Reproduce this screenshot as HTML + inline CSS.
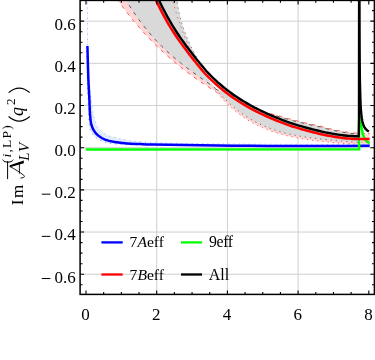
<!DOCTYPE html>
<html><head><meta charset="utf-8"><title>plot</title>
<style>
html,body{margin:0;padding:0;background:#fff;}
body{width:375px;height:360px;overflow:hidden;position:relative;font-family:"Liberation Serif",serif;}
</style></head><body>
<svg width="375" height="360" viewBox="0 0 375 360" style="position:absolute;left:0;top:0">
<defs><clipPath id="pc"><rect x="80.10" y="0.40" width="294.30" height="294.00"/></clipPath></defs>
<rect x="0" y="0" width="375" height="360" fill="#fff"/>
<g stroke="#cfcfcf" stroke-width="1" fill="none">
<path d="M156.70,0.40 V294.40"/>
<path d="M227.40,0.40 V294.40"/>
<path d="M298.10,0.40 V294.40"/>
<path d="M80.10,274.24 H374.40"/>
<path d="M80.10,232.06 H374.40"/>
<path d="M80.10,189.88 H374.40"/>
<path d="M80.10,147.70 H374.40"/>
<path d="M80.10,105.52 H374.40"/>
<path d="M80.10,63.34 H374.40"/>
<path d="M80.10,21.16 H374.40"/>
</g>
<g clip-path="url(#pc)" fill="none" stroke-linejoin="round">
<path d="M170.54,-8.00 L171.23,-5.11 L171.95,-2.21 L172.71,0.68 L173.49,3.58 L174.30,6.47 L175.15,9.37 L176.02,12.26 L176.93,15.16 L177.87,18.05 L178.84,20.95 L179.84,23.84 L180.87,26.74 L181.93,29.63 L183.02,32.53 L184.15,35.42 L185.30,38.32 L186.49,41.21 L187.70,44.11 L188.95,47.00 L188.00,52.60 L190.00,55.22 L192.00,57.77 L194.00,60.30 L196.00,62.83 L198.00,65.33 L200.00,67.77 L202.00,70.14 L204.00,72.41 L206.00,74.56 L209.00,80.50 L212.00,84.50 L215.50,89.00 L217.00,92.60 L217.00,92.51 L214.31,90.81 L211.62,89.09 L208.92,87.34 L206.23,85.57 L203.54,83.77 L200.85,81.94 L198.15,80.08 L195.46,78.18 L192.77,76.25 L190.08,74.28 L187.38,72.28 L184.69,70.23 L182.00,68.14 L179.31,66.00 L176.62,63.82 L173.92,61.58 L171.23,59.29 L168.54,56.95 L165.85,54.56 L163.15,52.11 L160.46,49.59 L157.77,47.02 L155.08,44.38 L152.38,41.68 L149.69,38.91 L147.00,36.06 L144.31,33.15 L141.62,30.16 L138.92,27.10 L136.23,23.96 L133.54,20.74 L130.85,17.44 L128.15,14.05 L125.46,10.58 L122.77,7.02 L120.08,3.37 L117.38,-0.37 L114.69,-4.21 L112.00,-8.14 Z" fill="#ffd6d6" stroke="none"/>
<path d="M217.00,92.60 L226.00,89.83 L228.71,91.83 L231.41,93.75 L234.12,95.59 L236.82,97.36 L239.53,99.05 L242.24,100.68 L244.94,102.25 L247.65,103.77 L250.36,105.23 L253.06,106.63 L255.77,107.98 L258.47,109.29 L261.18,110.55 L263.89,111.55 L266.59,112.41 L269.30,113.23 L272.00,114.01 L274.71,114.76 L277.42,115.48 L280.12,116.18 L282.83,117.02 L285.53,117.84 L288.24,118.62 L290.95,119.36 L293.65,120.03 L296.36,120.68 L299.07,121.30 L301.77,121.96 L304.48,122.64 L307.18,123.30 L309.89,123.92 L312.60,124.53 L315.30,125.10 L318.01,125.65 L320.71,126.24 L323.42,127.01 L326.13,127.75 L328.83,128.46 L331.54,129.13 L334.24,129.76 L336.95,130.34 L339.66,130.87 L342.36,131.36 L345.07,131.82 L347.78,132.22 L350.48,132.57 L353.19,132.86 L355.89,133.09 L358.60,133.26 L358.60,143.96 L356.20,143.92 L353.80,143.87 L351.40,143.79 L349.00,143.69 L346.60,143.58 L344.20,143.44 L341.80,143.29 L339.40,143.12 L337.00,142.94 L334.60,142.74 L332.20,142.53 L329.80,142.31 L327.40,142.07 L325.00,141.83 L322.60,141.57 L320.20,141.29 L317.80,141.01 L315.40,140.71 L313.00,140.39 L310.60,140.06 L308.20,139.72 L305.80,139.35 L303.40,138.97 L301.00,138.57 L298.60,138.14 L296.20,137.69 L293.80,137.21 L291.40,136.70 L289.00,136.17 L286.60,135.60 L284.20,135.00 L281.80,134.37 L279.40,133.70 L277.00,132.98 L274.60,132.23 L272.20,131.42 L269.80,130.57 L267.40,129.68 L265.00,128.73 L262.60,127.72 L260.20,126.65 L257.80,125.51 L255.40,124.31 L253.00,123.04 L250.60,121.69 L248.20,120.26 L245.80,118.75 L243.40,117.15 L241.00,115.46 L238.60,113.68 L236.20,111.80 L233.80,109.81 L231.40,107.72 L229.00,105.52 L226.60,103.21 L224.20,100.77 L221.80,98.21 L219.40,95.52 L217.00,92.70 Z" fill="#ffd6d6" stroke="none"/>
<path d="M361.2,133.6 L369.7,134.1 L369.7,144.6 L361.2,144.6 Z" fill="#ffd6d6" stroke="none"/>
<path d="M176.33,-8.00 L176.55,-4.58 L176.87,-1.16 L177.28,2.26 L177.78,5.68 L178.37,9.11 L179.06,12.53 L179.85,15.95 L180.72,19.37 L181.69,22.79 L182.75,26.21 L183.91,29.63 L185.16,33.05 L186.50,36.47 L187.94,39.89 L189.46,43.32 L191.09,46.74 L192.80,50.16 L194.61,53.58 L196.51,57.00 L196.00,62.83 L198.00,65.33 L200.00,67.77 L202.00,70.14 L204.00,72.41 L206.00,74.56 L209.00,80.50 L212.00,84.50 L215.50,89.00 L215.50,88.44 L213.06,86.67 L210.63,84.91 L208.19,83.17 L205.76,81.44 L203.32,79.71 L200.88,77.98 L198.45,76.25 L196.01,74.50 L193.58,72.74 L191.14,70.96 L188.71,69.16 L186.27,67.33 L183.83,65.47 L181.40,63.57 L178.96,61.63 L176.53,59.64 L174.09,57.60 L171.65,55.50 L169.22,53.35 L166.78,51.13 L164.35,48.84 L161.91,46.47 L159.47,44.03 L157.04,41.50 L154.60,38.89 L152.17,36.18 L149.73,33.38 L147.29,30.48 L144.86,27.47 L142.42,24.35 L139.99,21.11 L137.55,17.76 L135.12,14.28 L132.68,10.67 L130.24,6.93 L127.81,3.05 L125.37,-0.97 L122.94,-5.14 L120.50,-9.46 Z" fill="#d9d9d9" stroke="none"/>
<path d="M215.50,89.00 L218.50,90.60 L222.00,92.00 L226.00,90.63 L228.71,92.63 L231.41,94.55 L234.12,96.39 L236.82,98.16 L239.53,99.85 L242.24,101.48 L244.94,103.05 L247.65,104.57 L250.36,106.03 L253.06,107.43 L255.77,108.78 L258.47,110.09 L261.18,111.35 L263.89,112.35 L266.59,113.21 L269.30,114.03 L272.00,114.81 L274.71,115.56 L277.42,116.28 L280.12,116.98 L282.83,117.82 L285.53,118.64 L288.24,119.42 L290.95,120.16 L293.65,120.83 L296.36,121.48 L299.07,122.10 L301.77,122.76 L304.48,123.44 L307.18,124.10 L309.89,124.72 L312.60,125.33 L315.30,125.90 L318.01,126.45 L320.71,127.04 L323.42,127.81 L326.13,128.55 L328.83,129.26 L331.54,129.93 L334.24,130.56 L336.95,131.14 L339.66,131.67 L342.36,132.16 L345.07,132.62 L347.78,133.02 L350.48,133.37 L353.19,133.66 L355.89,133.89 L358.60,134.06 L358.60,142.39 L356.17,142.24 L353.75,142.09 L351.32,141.91 L348.90,141.73 L346.47,141.53 L344.05,141.32 L341.62,141.11 L339.20,140.89 L336.77,140.66 L334.35,140.42 L331.92,140.18 L329.49,139.94 L327.07,139.69 L324.64,139.43 L322.22,139.16 L319.79,138.89 L317.37,138.61 L314.94,138.31 L312.52,138.01 L310.09,137.69 L307.67,137.36 L305.24,137.01 L302.82,136.65 L300.39,136.26 L297.96,135.83 L295.54,135.37 L293.11,134.89 L290.69,134.38 L288.26,133.83 L285.84,133.25 L283.41,132.63 L280.99,131.97 L278.56,131.26 L276.14,130.51 L273.71,129.71 L271.28,128.85 L268.86,127.95 L266.43,127.00 L264.01,125.99 L261.58,124.91 L259.16,123.77 L256.73,122.55 L254.31,121.26 L251.88,119.90 L249.46,118.46 L247.03,116.94 L244.61,115.34 L242.18,113.65 L239.75,111.87 L237.33,110.00 L234.90,108.04 L232.48,105.98 L230.05,103.83 L227.63,101.58 L225.20,99.23 L222.78,96.78 L220.35,94.23 L217.93,91.58 L215.50,88.82 Z" fill="#d9d9d9" stroke="none"/>
<path d="M86.90,-8.00 L86.92,-7.19 L86.95,-6.16 L86.99,-4.94 L87.03,-3.56 L87.07,-2.05 L87.12,-0.43 L87.16,1.26 L87.20,3.00 L87.24,4.78 L87.28,6.62 L87.32,8.54 L87.36,10.56 L87.39,12.70 L87.43,14.98 L87.47,17.40 L87.50,20.00 L87.53,22.83 L87.54,25.91 L87.55,29.18 L87.56,32.56 L87.58,36.00 L87.60,39.43 L87.64,42.78 L87.70,46.00 L87.77,49.09 L87.85,52.12 L87.94,55.10 L88.04,58.06 L88.15,61.01 L88.28,63.98 L88.43,66.97 L88.60,70.00 L88.79,73.12 L89.01,76.34 L89.24,79.60 L89.49,82.86 L89.76,86.08 L90.03,89.20 L90.31,92.19 L90.60,95.00 L90.89,97.65 L91.19,100.19 L91.50,102.64 L91.83,104.97 L92.15,107.19 L92.49,109.31 L92.84,111.31 L93.20,113.20 L93.57,114.97 L93.96,116.62 L94.36,118.15 L94.78,119.58 L95.19,120.90 L95.60,122.13 L96.01,123.26 L96.40,124.30 L96.78,125.22 L97.14,126.00 L97.49,126.66 L97.84,127.23 L98.20,127.74 L98.57,128.23 L98.97,128.70 L99.40,129.20 L99.87,129.70 L100.37,130.17 L100.89,130.61 L101.43,131.03 L101.97,131.43 L102.52,131.83 L103.07,132.21 L103.60,132.60 L104.09,132.98 L104.52,133.34 L104.93,133.69 L105.36,134.04 L105.82,134.38 L106.36,134.71 L107.01,135.05 L107.80,135.40 L108.75,135.75 L109.84,136.12 L111.03,136.48 L112.31,136.84 L113.62,137.20 L114.95,137.55 L116.25,137.88 L117.50,138.20 L118.69,138.50 L119.85,138.79 L121.00,139.07 L122.16,139.34 L123.34,139.60 L124.56,139.85 L125.84,140.08 L127.20,140.30 L128.60,140.50 L130.01,140.68 L131.46,140.85 L132.96,141.01 L134.54,141.15 L136.22,141.30 L138.03,141.45 L140.00,141.60 L142.02,141.76 L144.02,141.92 L146.09,142.07 L148.30,142.23 L150.72,142.38 L153.42,142.53 L156.49,142.67 L160.00,142.80 L163.97,142.92 L168.36,143.04 L173.10,143.14 L178.12,143.24 L183.39,143.34 L188.83,143.43 L194.38,143.52 L200.00,143.60 L205.77,143.68 L211.80,143.75 L218.02,143.82 L224.38,143.88 L230.81,143.94 L237.27,144.00 L243.68,144.05 L250.00,144.10 L256.12,144.15 L262.04,144.19 L267.88,144.24 L273.77,144.28 L279.81,144.31 L286.11,144.34 L292.81,144.37 L300.00,144.40 L308.25,144.42 L317.67,144.44 L327.76,144.46 L337.98,144.47 L347.80,144.48 L356.71,144.49 L364.19,144.49 L369.70,144.50 L369.70,145.80 L340.00,146.00 L300.00,146.10 L250.00,145.80 L200.00,145.20 L152.80,144.90 L150.73,144.89 L147.89,144.88 L144.49,144.87 L140.76,144.85 L136.94,144.83 L133.26,144.80 L129.93,144.76 L127.20,144.70 L125.02,144.64 L123.17,144.57 L121.56,144.49 L120.15,144.40 L118.85,144.30 L117.61,144.18 L116.35,144.05 L115.00,143.90 L113.60,143.74 L112.21,143.57 L110.85,143.39 L109.52,143.19 L108.23,142.97 L106.98,142.72 L105.76,142.43 L104.60,142.10 L103.48,141.72 L102.39,141.29 L101.34,140.82 L100.33,140.32 L99.36,139.81 L98.45,139.27 L97.59,138.74 L96.80,138.20 L96.08,137.67 L95.42,137.15 L94.83,136.61 L94.29,136.07 L93.78,135.50 L93.31,134.91 L92.85,134.28 L92.40,133.60 L91.96,132.96 L91.55,132.38 L91.16,131.82 L90.80,131.20 L90.46,130.47 L90.15,129.57 L89.86,128.43 L89.60,127.00 L89.37,125.28 L89.18,123.33 L89.02,121.18 L88.89,118.84 L88.77,116.33 L88.65,113.67 L88.53,110.89 L88.40,108.00 L88.26,104.97 L88.12,101.77 L87.98,98.42 L87.85,94.94 L87.72,91.33 L87.60,87.63 L87.49,83.85 L87.40,80.00 L87.32,75.80 L87.25,71.12 L87.19,66.20 L87.14,61.25 L87.09,56.52 L87.06,52.25 L87.03,48.66 L87.00,46.00 Z" fill="#e3ecff" stroke="none"/>
<path d="M112.00,-8.14 L114.69,-4.21 L117.38,-0.37 L120.08,3.37 L122.77,7.02 L125.46,10.58 L128.15,14.05 L130.85,17.44 L133.54,20.74 L136.23,23.96 L138.92,27.10 L141.62,30.16 L144.31,33.15 L147.00,36.06 L149.69,38.91 L152.38,41.68 L155.08,44.38 L157.77,47.02 L160.46,49.59 L163.15,52.11 L165.85,54.56 L168.54,56.95 L171.23,59.29 L173.92,61.58 L176.62,63.82 L179.31,66.00 L182.00,68.14 L184.69,70.23 L187.38,72.28 L190.08,74.28 L192.77,76.25 L195.46,78.18 L198.15,80.08 L200.85,81.94 L203.54,83.77 L206.23,85.57 L208.92,87.34 L211.62,89.09 L214.31,90.81 L217.00,92.51" stroke="#ff5a5a" stroke-width="1" stroke-dasharray="3.5 5"/>
<path d="M170.54,-8.00 L171.23,-5.11 L171.95,-2.21 L172.71,0.68 L173.49,3.58 L174.30,6.47 L175.15,9.37 L176.02,12.26 L176.93,15.16 L177.87,18.05 L178.84,20.95 L179.84,23.84 L180.87,26.74 L181.93,29.63 L183.02,32.53 L184.15,35.42 L185.30,38.32 L186.49,41.21 L187.70,44.11 L188.95,47.00" stroke="#ff5a5a" stroke-width="1" stroke-dasharray="1.2 4"/>
<path d="M217.00,92.70 L219.40,95.52 L221.80,98.21 L224.20,100.77 L226.60,103.21 L229.00,105.52 L231.40,107.72 L233.80,109.81 L236.20,111.80 L238.60,113.68 L241.00,115.46 L243.40,117.15 L245.80,118.75 L248.20,120.26 L250.60,121.69 L253.00,123.04 L255.40,124.31 L257.80,125.51 L260.20,126.65 L262.60,127.72 L265.00,128.73 L267.40,129.68 L269.80,130.57 L272.20,131.42 L274.60,132.23 L277.00,132.98 L279.40,133.70 L281.80,134.37 L284.20,135.00 L286.60,135.60 L289.00,136.17 L291.40,136.70 L293.80,137.21 L296.20,137.69 L298.60,138.14 L301.00,138.57 L303.40,138.97 L305.80,139.35 L308.20,139.72 L310.60,140.06 L313.00,140.39 L315.40,140.71 L317.80,141.01 L320.20,141.29 L322.60,141.57 L325.00,141.83 L327.40,142.07 L329.80,142.31 L332.20,142.53 L334.60,142.74 L337.00,142.94 L339.40,143.12 L341.80,143.29 L344.20,143.44 L346.60,143.58 L349.00,143.69 L351.40,143.79 L353.80,143.87 L356.20,143.92 L358.60,143.96" stroke="#ff5a5a" stroke-width="1" stroke-dasharray="1.2 4"/>
<path d="M226.00,89.83 L228.71,91.83 L231.41,93.75 L234.12,95.59 L236.82,97.36 L239.53,99.05 L242.24,100.68 L244.94,102.25 L247.65,103.77 L250.36,105.23 L253.06,106.63 L255.77,107.98 L258.47,109.29 L261.18,110.55 L263.89,111.55 L266.59,112.41 L269.30,113.23 L272.00,114.01 L274.71,114.76 L277.42,115.48 L280.12,116.18 L282.83,117.02 L285.53,117.84 L288.24,118.62 L290.95,119.36 L293.65,120.03 L296.36,120.68 L299.07,121.30 L301.77,121.96 L304.48,122.64 L307.18,123.30 L309.89,123.92 L312.60,124.53 L315.30,125.10 L318.01,125.65 L320.71,126.24 L323.42,127.01 L326.13,127.75 L328.83,128.46 L331.54,129.13 L334.24,129.76 L336.95,130.34 L339.66,130.87 L342.36,131.36 L345.07,131.82 L347.78,132.22 L350.48,132.57 L353.19,132.86 L355.89,133.09 L358.60,133.26" stroke="#ff5a5a" stroke-width="1" stroke-dasharray="3.5 5"/>
<path d="M361.5,133.7 H369.7" stroke="#ff5a5a" stroke-width="1" stroke-dasharray="3.5 3"/>
<path d="M361.5,142.3 H369.7" stroke="#ff5a5a" stroke-width="1" stroke-dasharray="1.2 3"/>
<path d="M120.50,-9.46 L122.94,-5.14 L125.37,-0.97 L127.81,3.05 L130.24,6.93 L132.68,10.67 L135.12,14.28 L137.55,17.76 L139.99,21.11 L142.42,24.35 L144.86,27.47 L147.29,30.48 L149.73,33.38 L152.17,36.18 L154.60,38.89 L157.04,41.50 L159.47,44.03 L161.91,46.47 L164.35,48.84 L166.78,51.13 L169.22,53.35 L171.65,55.50 L174.09,57.60 L176.53,59.64 L178.96,61.63 L181.40,63.57 L183.83,65.47 L186.27,67.33 L188.71,69.16 L191.14,70.96 L193.58,72.74 L196.01,74.50 L198.45,76.25 L200.88,77.98 L203.32,79.71 L205.76,81.44 L208.19,83.17 L210.63,84.91 L213.06,86.67 L215.50,88.44" stroke="#555" stroke-width="1" stroke-dasharray="3.5 5"/>
<path d="M176.33,-8.00 L176.55,-4.58 L176.87,-1.16 L177.28,2.26 L177.78,5.68 L178.37,9.11 L179.06,12.53 L179.85,15.95 L180.72,19.37 L181.69,22.79 L182.75,26.21 L183.91,29.63 L185.16,33.05 L186.50,36.47 L187.94,39.89 L189.46,43.32 L191.09,46.74 L192.80,50.16 L194.61,53.58 L196.51,57.00" stroke="#777" stroke-width="1" stroke-dasharray="1.2 4"/>
<path d="M215.50,88.82 L217.93,91.58 L220.35,94.23 L222.78,96.78 L225.20,99.23 L227.63,101.58 L230.05,103.83 L232.48,105.98 L234.90,108.04 L237.33,110.00 L239.75,111.87 L242.18,113.65 L244.61,115.34 L247.03,116.94 L249.46,118.46 L251.88,119.90 L254.31,121.26 L256.73,122.55 L259.16,123.77 L261.58,124.91 L264.01,125.99 L266.43,127.00 L268.86,127.95 L271.28,128.85 L273.71,129.71 L276.14,130.51 L278.56,131.26 L280.99,131.97 L283.41,132.63 L285.84,133.25 L288.26,133.83 L290.69,134.38 L293.11,134.89 L295.54,135.37 L297.96,135.83 L300.39,136.26 L302.82,136.65 L305.24,137.01 L307.67,137.36 L310.09,137.69 L312.52,138.01 L314.94,138.31 L317.37,138.61 L319.79,138.89 L322.22,139.16 L324.64,139.43 L327.07,139.69 L329.49,139.94 L331.92,140.18 L334.35,140.42 L336.77,140.66 L339.20,140.89 L341.62,141.11 L344.05,141.32 L346.47,141.53 L348.90,141.73 L351.32,141.91 L353.75,142.09 L356.17,142.24 L358.60,142.39" stroke="#666" stroke-width="1" stroke-dasharray="1.2 4"/>
<path d="M215.50,89.00 L218.50,90.60 L222.00,92.00 L226.00,90.63 L228.71,92.63 L231.41,94.55 L234.12,96.39 L236.82,98.16 L239.53,99.85 L242.24,101.48 L244.94,103.05 L247.65,104.57 L250.36,106.03 L253.06,107.43 L255.77,108.78 L258.47,110.09 L261.18,111.35 L263.89,112.35 L266.59,113.21 L269.30,114.03 L272.00,114.81 L274.71,115.56 L277.42,116.28 L280.12,116.98 L282.83,117.82 L285.53,118.64 L288.24,119.42 L290.95,120.16 L293.65,120.83 L296.36,121.48 L299.07,122.10 L301.77,122.76 L304.48,123.44 L307.18,124.10 L309.89,124.72 L312.60,125.33 L315.30,125.90 L318.01,126.45 L320.71,127.04 L323.42,127.81 L326.13,128.55 L328.83,129.26 L331.54,129.93 L334.24,130.56 L336.95,131.14 L339.66,131.67 L342.36,132.16 L345.07,132.62 L347.78,133.02 L350.48,133.37 L353.19,133.66 L355.89,133.89 L358.60,134.06" stroke="#555" stroke-width="1" stroke-dasharray="3.5 5"/>
<path d="M86.90,-8.00 C86.95,-6.17 87.10,-1.67 87.20,3.00 C87.30,7.67 87.42,12.83 87.50,20.00 C87.58,27.17 87.52,37.67 87.70,46.00 C87.88,54.33 88.12,61.83 88.60,70.00 C89.08,78.17 89.83,87.80 90.60,95.00 C91.37,102.20 92.23,108.32 93.20,113.20 C94.17,118.08 95.37,121.63 96.40,124.30 C97.43,126.97 98.20,127.82 99.40,129.20 C100.60,130.58 102.20,131.57 103.60,132.60 C105.00,133.63 105.48,134.47 107.80,135.40 C110.12,136.33 114.27,137.38 117.50,138.20 C120.73,139.02 123.45,139.73 127.20,140.30 C130.95,140.87 134.53,141.18 140.00,141.60 C145.47,142.02 150.00,142.47 160.00,142.80 C170.00,143.13 185.00,143.38 200.00,143.60 C215.00,143.82 233.33,143.97 250.00,144.10 C266.67,144.23 280.05,144.33 300.00,144.40 C319.95,144.47 358.08,144.48 369.70,144.50" stroke="#9db4ff" stroke-width="0.9" stroke-dasharray="1.2 4"/>
<path d="M87.00,46.00 C87.07,51.67 87.17,69.67 87.40,80.00 C87.63,90.33 88.03,100.17 88.40,108.00 C88.77,115.83 88.93,122.73 89.60,127.00 C90.27,131.27 91.20,131.73 92.40,133.60 C93.60,135.47 94.77,136.78 96.80,138.20 C98.83,139.62 101.57,141.15 104.60,142.10 C107.63,143.05 111.23,143.47 115.00,143.90 C118.77,144.33 120.90,144.53 127.20,144.70 C133.50,144.87 148.53,144.87 152.80,144.90" stroke="#7d9bff" stroke-width="1" stroke-dasharray="1.2 4"/>
<path d="M87.40,46.00 C87.47,48.33 87.63,54.33 87.80,60.00 C87.97,65.67 88.13,73.33 88.40,80.00 C88.67,86.67 89.13,94.35 89.40,100.00 C89.67,105.65 89.72,109.97 90.00,113.90 C90.28,117.83 90.45,120.82 91.10,123.60 C91.75,126.38 92.75,128.63 93.90,130.60 C95.05,132.57 96.15,133.90 98.00,135.40 C99.85,136.90 102.22,138.48 105.00,139.60 C107.78,140.72 111.00,141.43 114.70,142.10 C118.40,142.77 122.98,143.27 127.20,143.60 C131.42,143.93 135.73,143.94 140.00,144.10 C144.27,144.26 142.80,144.37 152.80,144.55 C162.80,144.73 183.80,144.99 200.00,145.20 C216.20,145.41 233.33,145.65 250.00,145.80 C266.67,145.95 285.00,146.07 300.00,146.10 C315.00,146.13 328.38,146.05 340.00,146.00 C351.62,145.95 364.75,145.83 369.70,145.80" stroke="#0000ff" stroke-width="2.5"/>
<path d="M85.80,149.60 L359.10,149.20 L359.10,149.20 L359.20,117.00 L360.85,117.00 L360.91,118.13 L360.98,119.27 L361.05,120.40 L361.13,121.54 L361.21,122.67 L361.31,123.81 L361.41,124.94 L361.53,126.08 L361.65,127.21 L361.80,128.35 L361.95,129.48 L362.13,130.62 L362.34,131.75 L362.57,132.89 L362.85,134.02 L363.17,135.16 L363.56,136.29 L364.02,137.43 L364.60,138.56 L365.34,139.70 L366.31,140.83 L367.65,141.97 L369.61,143.10" stroke="#00ff00" stroke-width="2.5" stroke-linejoin="miter"/>
<path d="M151.03,-10.75 L153.35,-5.56 L155.67,-0.51 L157.99,4.38 L160.31,9.08 L162.64,13.56 L164.97,17.87 L167.29,22.05 L169.63,26.10 L171.97,29.87 L174.30,33.49 L176.63,36.98 L178.96,40.36 L181.29,43.63 L183.62,46.78 L185.93,49.79 L188.23,52.91 L190.57,55.96 L192.88,58.88 L195.19,61.80 L197.51,64.73 L199.84,67.58 L202.18,70.35 L204.54,73.02 L206.89,75.50 L209.23,77.89 L211.57,80.20 L213.92,82.44 L216.27,84.55 L218.61,86.59 L220.95,88.55 L223.29,90.44 L225.64,92.27 L227.98,94.03 L230.32,95.74 L232.66,97.39 L235.00,98.99 L237.34,100.53 L239.68,102.03 L242.01,103.47 L244.35,104.87 L246.69,106.23 L249.02,107.55 L251.36,108.84 L253.69,110.08 L256.03,111.28 L258.36,112.46 L260.69,113.59 L263.02,114.70 L265.36,115.78 L267.69,116.82 L270.01,117.85 L272.34,118.84 L274.67,119.81 L277.00,120.75 L279.32,121.68 L281.65,122.58 L283.98,123.45 L286.30,124.31 L288.65,125.16 L291.00,125.94 L293.33,126.69 L295.65,127.41 L297.98,128.12 L300.30,128.81 L302.63,129.48 L304.95,130.14 L307.27,130.77 L309.60,131.39 L311.93,131.98 L314.25,132.56 L316.58,133.12 L318.90,133.66 L321.22,134.19 L323.55,134.70 L325.88,135.19 L328.21,135.66 L330.55,136.10 L332.88,136.51 L335.22,136.90 L337.56,137.26 L339.89,137.59 L342.23,137.90 L344.57,138.17 L346.92,138.41 L349.27,138.60 L351.63,138.76 L353.98,138.88 L356.34,138.94 L358.68,138.96 L369.60,138.90" stroke="#ff0000" stroke-width="2.5"/>
<path d="M153.50,-11.85 L155.81,-6.67 L158.11,-1.66 L160.42,3.20 L162.72,7.86 L165.03,12.29 L167.33,16.58 L169.64,20.71 L171.94,24.71 L174.25,28.43 L176.56,32.01 L178.86,35.47 L181.17,38.81 L183.47,42.05 L185.78,45.16 L188.08,48.17 L190.39,51.29 L192.70,54.30 L195.00,57.21 L197.31,60.13 L199.61,63.04 L201.92,65.86 L204.22,68.58 L206.53,71.20 L208.83,73.63 L211.14,75.99 L213.45,78.26 L215.75,80.46 L218.06,82.53 L220.36,84.53 L222.67,86.46 L224.97,88.33 L227.28,90.13 L229.59,91.87 L231.89,93.55 L234.20,95.17 L236.50,96.75 L238.81,98.27 L241.11,99.74 L243.42,101.17 L245.72,102.55 L248.03,103.89 L250.34,105.20 L252.64,106.46 L254.95,107.69 L257.25,108.88 L259.56,110.04 L261.86,111.16 L264.17,112.26 L266.48,113.32 L268.78,114.36 L271.09,115.37 L273.39,116.35 L275.70,117.31 L278.00,118.25 L280.31,119.16 L282.61,120.05 L284.92,120.92 L287.23,121.77 L289.53,122.61 L291.84,123.37 L294.14,124.11 L296.45,124.83 L298.75,125.54 L301.06,126.22 L303.37,126.89 L305.67,127.53 L307.98,128.16 L310.28,128.77 L312.59,129.37 L314.89,129.94 L317.20,130.49 L319.50,131.03 L321.81,131.55 L324.12,132.06 L326.42,132.55 L328.73,133.01 L331.03,133.44 L333.34,133.85 L335.64,134.24 L337.95,134.59 L340.26,134.91 L342.56,135.22 L344.87,135.48 L347.17,135.72 L349.48,135.91 L351.78,136.07 L354.09,136.18 L356.39,136.24 L358.70,136.26 L359.0,120 L359.1,-10" stroke="#000" stroke-width="2.4"/>
<path d="M359.32,-10.00 L359.36,5.71 L359.42,21.43 L359.49,37.14 L359.59,52.86 L359.74,68.57 L359.97,84.29 L360.41,100.00 L360.59,104.00 L360.65,105.20 L360.71,106.40 L360.79,107.60 L360.86,108.80 L360.95,110.00 L361.04,111.20 L361.15,112.40 L361.26,113.60 L361.38,114.80 L361.52,116.00 L361.68,117.20 L361.85,118.40 L362.05,119.60 L362.28,120.80 L362.55,122.00 L362.86,123.20 L363.24,124.40 L363.69,125.60 L364.24,126.80 L364.95,128.00 L365.87,129.20 L367.13,130.40 L368.95,131.60" stroke="#000" stroke-width="2.4"/>
</g>
<g stroke-width="2.3" fill="none">
<path d="M101.4,242.4 H122.7" stroke="#0000ff"/>
<path d="M181,242.4 H202" stroke="#00ff00"/>
<path d="M101.4,274.5 H122.7" stroke="#ff0000"/>
<path d="M181,274.5 H202" stroke="#000"/>
</g>
<g stroke="#000" fill="none">
<rect x="80.10" y="0.40" width="294.30" height="294.00" stroke-width="1.5"/>
<path d="M86.00,294.40 v-4.00 M86.00,0.40 v4.00 M103.67,294.40 v-2.40 M103.67,0.40 v2.40 M121.35,294.40 v-2.40 M121.35,0.40 v2.40 M139.03,294.40 v-2.40 M139.03,0.40 v2.40 M156.70,294.40 v-4.00 M156.70,0.40 v4.00 M174.38,294.40 v-2.40 M174.38,0.40 v2.40 M192.05,294.40 v-2.40 M192.05,0.40 v2.40 M209.73,294.40 v-2.40 M209.73,0.40 v2.40 M227.40,294.40 v-4.00 M227.40,0.40 v4.00 M245.08,294.40 v-2.40 M245.08,0.40 v2.40 M262.75,294.40 v-2.40 M262.75,0.40 v2.40 M280.43,294.40 v-2.40 M280.43,0.40 v2.40 M298.10,294.40 v-4.00 M298.10,0.40 v4.00 M315.77,294.40 v-2.40 M315.77,0.40 v2.40 M333.45,294.40 v-2.40 M333.45,0.40 v2.40 M351.12,294.40 v-2.40 M351.12,0.40 v2.40 M368.80,294.40 v-4.00 M368.80,0.40 v4.00 M80.10,284.78 h2.40 M374.40,284.78 h-2.40 M80.10,274.24 h4.00 M374.40,274.24 h-4.00 M80.10,263.69 h2.40 M374.40,263.69 h-2.40 M80.10,253.15 h2.40 M374.40,253.15 h-2.40 M80.10,242.60 h2.40 M374.40,242.60 h-2.40 M80.10,232.06 h4.00 M374.40,232.06 h-4.00 M80.10,221.51 h2.40 M374.40,221.51 h-2.40 M80.10,210.97 h2.40 M374.40,210.97 h-2.40 M80.10,200.42 h2.40 M374.40,200.42 h-2.40 M80.10,189.88 h4.00 M374.40,189.88 h-4.00 M80.10,179.33 h2.40 M374.40,179.33 h-2.40 M80.10,168.79 h2.40 M374.40,168.79 h-2.40 M80.10,158.25 h2.40 M374.40,158.25 h-2.40 M80.10,147.70 h4.00 M374.40,147.70 h-4.00 M80.10,137.15 h2.40 M374.40,137.15 h-2.40 M80.10,126.61 h2.40 M374.40,126.61 h-2.40 M80.10,116.06 h2.40 M374.40,116.06 h-2.40 M80.10,105.52 h4.00 M374.40,105.52 h-4.00 M80.10,94.97 h2.40 M374.40,94.97 h-2.40 M80.10,84.43 h2.40 M374.40,84.43 h-2.40 M80.10,73.88 h2.40 M374.40,73.88 h-2.40 M80.10,63.34 h4.00 M374.40,63.34 h-4.00 M80.10,52.79 h2.40 M374.40,52.79 h-2.40 M80.10,42.25 h2.40 M374.40,42.25 h-2.40 M80.10,31.70 h2.40 M374.40,31.70 h-2.40 M80.10,21.16 h4.00 M374.40,21.16 h-4.00 M80.10,10.61 h2.40 M374.40,10.61 h-2.40" stroke-width="1.1"/>
</g>
</svg>
<svg width="375" height="360" viewBox="0 0 375 360" style="position:absolute;left:0;top:0;will-change:transform">
<g font-family="'Liberation Serif', serif" fill="#000">
<text x="85.60" y="320" font-size="17" text-anchor="middle">0</text>
<text x="156.30" y="320" font-size="17" text-anchor="middle">2</text>
<text x="227.00" y="320" font-size="17" text-anchor="middle">4</text>
<text x="297.70" y="320" font-size="17" text-anchor="middle">6</text>
<text x="368.40" y="320" font-size="17" text-anchor="middle">8</text>
<text x="75.8" y="282.64" font-size="17" text-anchor="end">0.6</text>
<path d="M41.8,278.54 h8.6" stroke="#000" stroke-width="1"/>
<text x="75.8" y="240.46" font-size="17" text-anchor="end">0.4</text>
<path d="M41.8,236.36 h8.6" stroke="#000" stroke-width="1"/>
<text x="75.8" y="198.28" font-size="17" text-anchor="end">0.2</text>
<path d="M41.8,194.18 h8.6" stroke="#000" stroke-width="1"/>
<text x="75.8" y="156.10" font-size="17" text-anchor="end">0.0</text>
<text x="75.8" y="113.92" font-size="17" text-anchor="end">0.2</text>
<text x="75.8" y="71.74" font-size="17" text-anchor="end">0.4</text>
<text x="75.8" y="29.56" font-size="17" text-anchor="end">0.6</text>
<text x="129.6" y="247.4" font-size="15.6">7<tspan font-style="italic">A</tspan>eff</text>
<text x="129.6" y="279.6" font-size="15.6">7<tspan font-style="italic">B</tspan>eff</text>
<text x="209.0" y="247.4" font-size="15.8" letter-spacing="-0.35">9eff</text>
<text x="208.8" y="279.6" font-size="16">All</text>
<g transform="translate(22.8,205.3) rotate(-90)">
<text x="0" y="0" font-size="17" letter-spacing="1.6">Im</text>
<path d="M27.3,-1.9 C27.2,0.9 28.6,2.6 30.0,1.0 C33.2,-3.0 36.2,-8.2 38.9,-12.9" stroke="#000" stroke-width="0.9" fill="none" stroke-linecap="round"/>
<path d="M38.0,-13.0 L40.0,-13.0 L44.8,1.0 L42.0,1.0 Z" fill="#000"/>
<path d="M31.6,-3.4 H42.2" stroke="#000" stroke-width="0.9"/>
<path d="M26.2,-15.2 H44.2" stroke="#000" stroke-width="1"/>
<text x="44.6" y="6.6" font-size="15" font-style="italic" letter-spacing="0.8">LV</text>
<text x="42.0" y="-11.6" font-size="13.5" letter-spacing="1.25">(<tspan font-style="italic">i</tspan>,LP)</text>
<path d="M88.8,-14.2 Q79.6,-3.6 88.8,7.0 M112.6,-14.2 Q121.8,-3.6 112.6,7.0" stroke="#000" stroke-width="1.1" fill="none"/>
<text x="89.2" y="0.3" font-size="18" font-style="italic">q</text>
<text x="100.2" y="-7.8" font-size="13">2</text>
</g>
</g>
</svg>
</body></html>
